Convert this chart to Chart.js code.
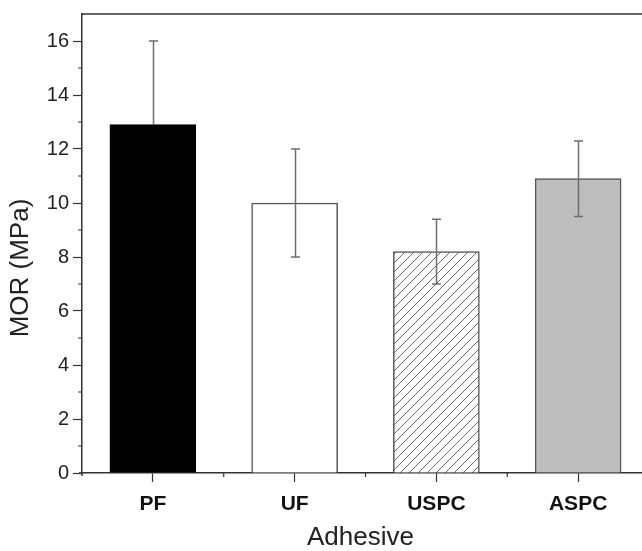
<!DOCTYPE html>
<html>
<head>
<meta charset="utf-8">
<script src="https://cdn.jsdelivr.net/npm/chart.js@4"></script>
<style>
  html, body { margin: 0; padding: 0; background: #fff; overflow: hidden; }
  #wrap { width: 642px; height: 551px; overflow: hidden; }
</style>
</head>
<body>
<div id="wrap"><canvas id="morChart" width="660" height="551"></canvas></div>
<script>
// data
const adhesives = ["PF", "UF", "USPC", "ASPC"]
const morValues = [12.9, 10.0, 8.2, 10.9]
const errHigh = [16.0, 12.0, 9.4, 12.3]
const errLow = [9.8, 8.0, 7.0, 9.5]
const yTickLabels = [0, 2, 4, 6, 8, 10, 12, 14, 16]

const FONT = "'Liberation Sans', Arial, sans-serif"

function hatchPattern() {
  const c = document.createElement("canvas")
  c.width = 9
  c.height = 9
  const g = c.getContext("2d")
  g.fillStyle = "#fff"
  g.fillRect(0, 0, 9, 9)
  g.strokeStyle = "#6a6a6a"
  g.lineWidth = 1
  g.beginPath()
  g.moveTo(-1, 10)
  g.lineTo(10, -1)
  g.moveTo(-1, 1)
  g.lineTo(1, -1)
  g.moveTo(8, 10)
  g.lineTo(10, 8)
  g.stroke()
  return g.createPattern(c, "repeat")
}

// top frame line, minor ticks, error bars, axis titles
const extras = {
  id: "extras",
  afterDatasetsDraw(chart) {
    const ctx = chart.ctx
    const area = chart.chartArea
    const x = chart.scales.x
    const y = chart.scales.y
    const bars = chart.getDatasetMeta(0).data

    ctx.save()
    // error bars
    ctx.lineWidth = 1.5
    bars.forEach((bar, i) => {
      const cx = Math.round(bar.x) + 0.5
      const top = y.getPixelForValue(errHigh[i])
      const bot = y.getPixelForValue(errLow[i])
      const mid = y.getPixelForValue(morValues[i])
      const dark = i === 0
      ctx.strokeStyle = "#6e6e6e"
      ctx.beginPath()
      ctx.moveTo(cx, top)
      ctx.lineTo(cx, mid)
      ctx.moveTo(cx - 4.5, top)
      ctx.lineTo(cx + 4.5, top)
      ctx.stroke()
      ctx.strokeStyle = dark ? "#000" : "#6e6e6e"
      ctx.beginPath()
      ctx.moveTo(cx, mid)
      ctx.lineTo(cx, bot)
      ctx.moveTo(cx - 4.5, bot)
      ctx.lineTo(cx + 4.5, bot)
      ctx.stroke()
    })

    // frame top, axis overhang at origin
    ctx.strokeStyle = "#333"
    ctx.lineWidth = 1.5
    ctx.beginPath()
    ctx.moveTo(area.left, area.top)
    ctx.lineTo(area.right, area.top)
    ctx.moveTo(area.left, area.bottom)
    ctx.lineTo(area.left, area.bottom + 3)
    ctx.moveTo(area.left - 3, area.bottom)
    ctx.lineTo(area.left, area.bottom)
    ctx.stroke()

    // minor ticks
    ctx.lineWidth = 1.2
    ctx.beginPath()
    for (let v = 1; v < 17; v += 2) {
      const py = y.getPixelForValue(v)
      ctx.moveTo(area.left - 4, py)
      ctx.lineTo(area.left, py)
    }
    for (let i = 0; i < adhesives.length - 1; i++) {
      const px = (x.getPixelForValue(i) + x.getPixelForValue(i + 1)) / 2
      ctx.moveTo(px, area.bottom)
      ctx.lineTo(px, area.bottom + 4)
    }
    ctx.stroke()

    // axis titles
    ctx.fillStyle = "#222"
    ctx.font = "26px " + FONT
    ctx.textAlign = "center"
    ctx.textBaseline = "middle"
    ctx.fillText("Adhesive", (x.getPixelForValue(0) + x.getPixelForValue(3)) / 2 - 5, 538)
    ctx.translate(21, 268)
    ctx.rotate(-Math.PI / 2)
    ctx.fillText("MOR (MPa)", 0, 0)
    ctx.restore()
  },
}

new Chart(document.getElementById("morChart"), {
  type: "bar",
  data: {
    labels: adhesives,
    datasets: [
      {
        data: morValues,
        backgroundColor: ["#000", "#fff", hatchPattern(), "#bdbdbd"],
        borderColor: ["#000", "#555", "#555", "#555"],
        borderWidth: 1.5,
        barThickness: 86,
      },
    ],
  },
  options: {
    responsive: false,
    animation: false,
    layout: { padding: { top: 14, right: 11, left: 0, bottom: 0 } },
    plugins: {
      legend: { display: false },
      tooltip: { enabled: false },
    },
    scales: {
      x: {
        offset: true,
        afterFit: (s) => { s.height = 78 },
        border: { color: "#333", width: 1.5 },
        grid: {
          offset: false,
          drawOnChartArea: false,
          tickLength: 9,
          tickColor: "#333",
          tickWidth: 1.2,
        },
        ticks: {
          padding: 10,
          color: "#111",
          font: { family: FONT, size: 21, weight: "bold" },
        },
      },
      y: {
        min: 0,
        max: 17,
        afterFit: (s) => {
          s.width = 82
          s.paddingTop = 0
          s.paddingBottom = 0
        },
        border: { color: "#333", width: 1.5 },
        grid: {
          drawOnChartArea: false,
          tickLength: 9,
          tickWidth: 1.2,
          tickColor: (c) => (yTickLabels.includes(c.tick.value) ? "#333" : "rgba(0,0,0,0)"),
        },
        ticks: {
          stepSize: 1,
          padding: 4,
          color: "#222",
          font: { family: FONT, size: 20 },
          callback: (v) => (yTickLabels.includes(v) ? v : ""),
        },
      },
    },
  },
  plugins: [extras],
})
</script>
</body>
</html>
